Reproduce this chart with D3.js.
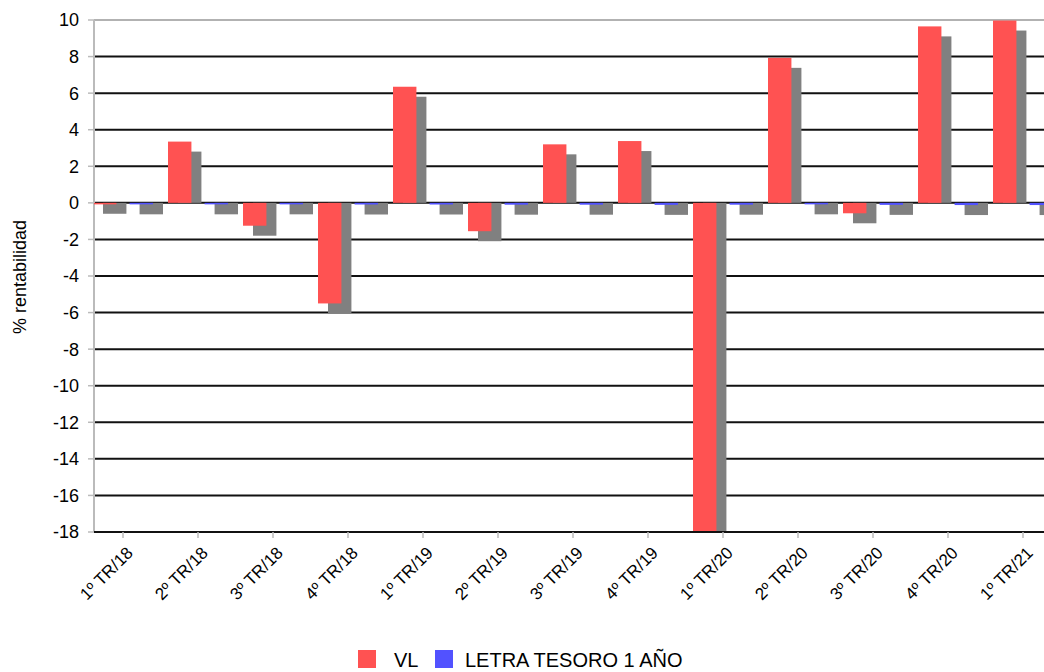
<!DOCTYPE html>
<html>
<head>
<meta charset="utf-8">
<script src="https://cdn.jsdelivr.net/npm/d3@7"></script>
<style>
    body { margin: 0; background: #fff; }
    text { font-family: "Liberation Sans Narrow", "Liberation Sans", Arial, sans-serif; fill: #000; }
</style>
</head>
<body>
<svg id="chart" width="1044" height="672"></svg>
<script>
    // data
    var categories = ["1º TR/18", "2º TR/18", "3º TR/18", "4º TR/18", "1º TR/19", "2º TR/19", "3º TR/19",
        "4º TR/19", "1º TR/20", "2º TR/20", "3º TR/20", "4º TR/20", "1º TR/21"];
    var seriesNames = ["VL", "LETRA TESORO 1 AÑO"];
    var vlValues = [-0.05, 3.35, -1.25, -5.5, 6.35, -1.55, 3.2, 3.38, -18.6, 7.93, -0.57, 9.65, 9.97];
    var letraValues = [-0.08, -0.08, -0.08, -0.09, -0.09, -0.1, -0.1, -0.11, -0.1, -0.08, -0.11, -0.12, -0.12];
    var yTicks = [-18, -16, -14, -12, -10, -8, -6, -4, -2, 0, 2, 4, 6, 8, 10];
    var yTitle = "% rentabilidad";

    var colors = ["#ff5252", "#5252ff"];
    var shadowColor = "#808080";

    var svg = d3.select("#chart");
    var plotLeft = 94, plotRight = 1044, plotTop = 20, plotBottom = 532;

    var y = d3.scaleLinear().domain([-18, 10]).range([plotBottom, plotTop]);
    var x = d3.scaleBand().domain(categories).range([93, 1053]).paddingInner(0.2).paddingOuter(0);
    var xSub = d3.scaleBand().domain(seriesNames).range([0, x.bandwidth()]).paddingInner(0.36);

    svg.append("defs").append("clipPath").attr("id", "plot")
        .append("rect").attr("x", plotLeft).attr("y", plotTop - 2)
        .attr("width", plotRight - plotLeft).attr("height", plotBottom - plotTop + 2);

    // grid lines
    svg.append("g").selectAll("line")
        .data(yTicks)
        .enter()
        .append("line")
        .attr("x1", plotLeft).attr("x2", plotRight)
        .attr("y1", function (d) { return y(d); })
        .attr("y2", function (d) { return y(d); })
        .style("stroke", function (d) { return d === 10 ? "#999" : "#111"; })
        .style("stroke-width", function (d) { return d === 10 ? 1.5 : 2; });

    // y axis line and ticks
    svg.append("line").attr("x1", plotLeft).attr("x2", plotLeft).attr("y1", plotTop).attr("y2", plotBottom)
        .style("stroke", "#bbb").style("stroke-width", 2);
    svg.append("g").selectAll("line")
        .data(yTicks)
        .enter()
        .append("line")
        .attr("x1", 88).attr("x2", plotLeft)
        .attr("y1", function (d) { return y(d); })
        .attr("y2", function (d) { return y(d); })
        .style("stroke", "#bbb").style("stroke-width", 1.5);

    svg.append("g").selectAll("text")
        .data(yTicks)
        .enter()
        .append("text")
        .attr("x", 79)
        .attr("y", function (d) { return y(d); })
        .attr("dy", "0.36em")
        .attr("text-anchor", "end")
        .style("font-size", "18px")
        .text(function (d) { return String(d); });

    // bars with their drop shadows
    var rows = [];
    categories.forEach(function (c, i) {
        rows.push({ cat: c, s: 0, v: vlValues[i] });
        rows.push({ cat: c, s: 1, v: letraValues[i] });
    });

    var plot = svg.append("g").attr("clip-path", "url(#plot)");

    plot.selectAll("rect.shadow")
        .data(rows)
        .enter()
        .append("rect")
        .attr("class", "shadow")
        .attr("x", function (d) { return x(d.cat) + xSub(seriesNames[d.s]) + 10; })
        .attr("y", function (d) { return Math.min(y(0), y(d.v) + 10); })
        .attr("width", xSub.bandwidth())
        .attr("height", function (d) { return Math.abs(y(d.v) + 10 - y(0)); })
        .style("fill", shadowColor);

    plot.selectAll("rect.bar")
        .data(rows)
        .enter()
        .append("rect")
        .attr("class", "bar")
        .attr("x", function (d) { return x(d.cat) + xSub(seriesNames[d.s]); })
        .attr("y", function (d) { return Math.min(y(0), y(d.v)); })
        .attr("width", xSub.bandwidth())
        .attr("height", function (d) { return Math.max(1.5, Math.abs(y(d.v) - y(0))); })
        .style("fill", function (d) { return colors[d.s]; });

    // x axis
    svg.append("line").attr("x1", plotLeft).attr("x2", plotRight).attr("y1", plotBottom).attr("y2", plotBottom)
        .style("stroke", "#111").style("stroke-width", 2);
    svg.append("g").selectAll("line")
        .data(categories)
        .enter()
        .append("line")
        .attr("x1", function (d) { return x(d) + x.bandwidth() / 2; })
        .attr("x2", function (d) { return x(d) + x.bandwidth() / 2; })
        .attr("y1", plotBottom).attr("y2", plotBottom + 6)
        .style("stroke", "#bbb").style("stroke-width", 1.5);

    svg.append("g").selectAll("text")
        .data(categories)
        .enter()
        .append("text")
        .attr("transform", function (d) {
            return "translate(" + (x(d) + x.bandwidth() / 2 + 11) + "," + (plotBottom + 22) + ") rotate(-45)";
        })
        .attr("text-anchor", "end")
        .style("font-size", "17px")
        .text(function (d) { return d; });

    svg.append("text")
        .attr("transform", "translate(26,277) rotate(-90)")
        .attr("text-anchor", "middle")
        .style("font-size", "18px")
        .text(yTitle);

    // legend
    var legendX = [358, 435];
    var legendTextX = [394, 465];
    seriesNames.forEach(function (name, i) {
        svg.append("rect")
            .attr("x", legendX[i]).attr("y", 650)
            .attr("width", 18).attr("height", 18)
            .style("fill", colors[i]);
        svg.append("text")
            .attr("x", legendTextX[i]).attr("y", 667)
            .style("font-size", "20px")
            .text(name);
    });
</script>
</body>
</html>
